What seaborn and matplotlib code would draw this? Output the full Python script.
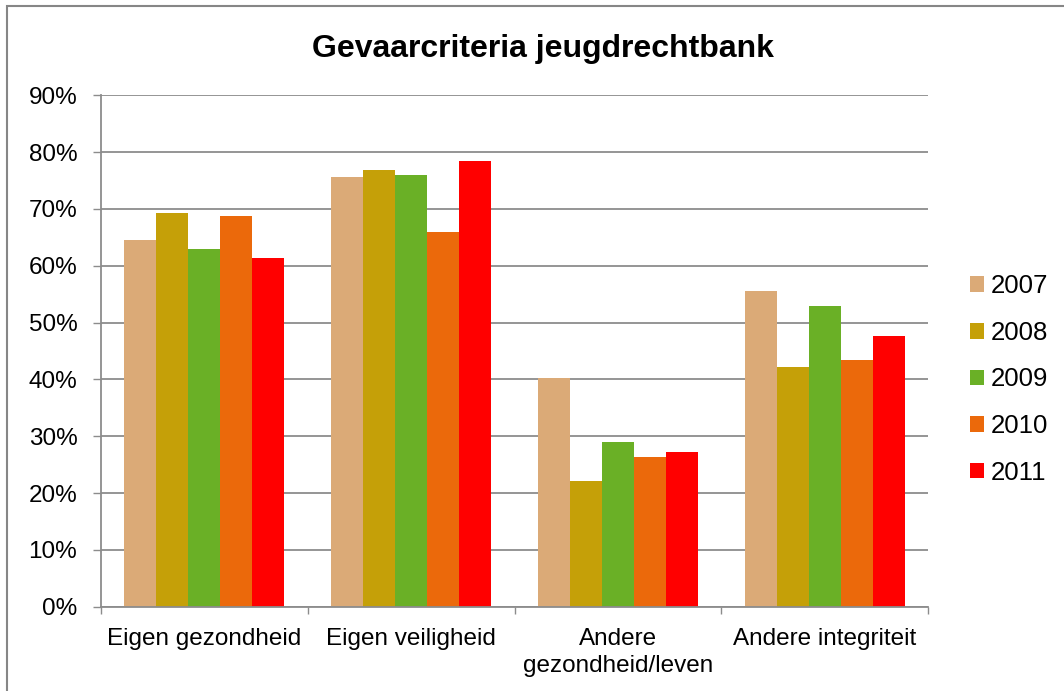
import matplotlib
matplotlib.use("Agg")
import matplotlib.pyplot as plt
import pandas as pd
import seaborn as sns
from matplotlib.patches import Rectangle, Patch
from matplotlib.ticker import FixedLocator

# Data (in %)
categories = ["Eigen gezondheid", "Eigen veiligheid",
              "Andere\ngezondheid/leven", "Andere integriteit"]
years = ["2007", "2008", "2009", "2010", "2011"]
v2007 = [64.6, 75.7, 40.3, 55.5]
v2008 = [69.2, 76.9, 22.1, 42.2]
v2009 = [62.9, 76.0, 28.9, 52.9]
v2010 = [68.8, 66.0, 26.3, 43.4]
v2011 = [61.4, 78.4, 27.2, 47.7]
colors = ["#DBAA77", "#C5A008", "#6AB026", "#EB690B", "#FF0000"]
yticks = [0, 10, 20, 30, 40, 50, 60, 70, 80, 90]

series = [v2007, v2008, v2009, v2010, v2011]
rows = []
for yr, vals in zip(years, series):
    for cat, v in zip(categories, vals):
        rows.append({"criterium": cat, "jaar": yr, "pct": v})
df = pd.DataFrame(rows)

sns.set_style("white")
plt.rcParams['font.family'] = ['Liberation Sans', 'DejaVu Sans']
plt.rcParams['text.color'] = 'black'
plt.rcParams['xtick.labelcolor'] = 'black'
plt.rcParams['ytick.labelcolor'] = 'black'

W, H = 1064, 691
fig = plt.figure(figsize=(W / 100, H / 100), dpi=100)
ax = fig.add_axes([100.7 / W, 1 - 606.7 / H, (928.3 - 100.7) / W, (606.7 - 95.3) / H])

sns.barplot(data=df, x="criterium", y="pct", hue="jaar", order=categories,
            hue_order=years, palette=colors, width=0.77, gap=0, saturation=1,
            edgecolor="none", linewidth=0, errorbar=None, ax=ax)

grey = "#8c8c8c"
ax.set_ylim(0, 90)
ax.set_xlim(-0.5, 3.5)
ax.set_yticks(yticks)
ax.set_yticklabels([f"{t}%" for t in yticks])
ax.set_xlabel("")
ax.set_ylabel("")
ax.yaxis.grid(True, color=grey, lw=1.3)
ax.set_axisbelow(True)
for s in ["top", "right"]:
    ax.spines[s].set_visible(False)
for s in ["left", "bottom"]:
    ax.spines[s].set_color(grey)
    ax.spines[s].set_linewidth(1.3)

ax.tick_params(axis="y", length=5.8, width=1, color=grey, pad=11, labelsize=17.5, left=True)
ax.tick_params(axis="x", which="major", length=0, pad=15, labelsize=17.5)
for lbl in ax.get_xticklabels():
    lbl.set_linespacing(1.35)
ax.xaxis.set_minor_locator(FixedLocator([-0.5, 0.5, 1.5, 2.5, 3.5]))
ax.tick_params(axis="x", which="minor", length=5, width=1, color=grey, bottom=True)

ax.legend_.remove()
handles = [Patch(facecolor=c, edgecolor="none") for c in colors]
ax.legend(handles, years, loc="center left",
          bbox_to_anchor=(970 / W, 1 - 379.5 / H), bbox_transform=fig.transFigure,
          frameon=False, fontsize=18.5, borderpad=0, borderaxespad=0,
          handlelength=0.55, handleheight=0.55, handletextpad=0.25, labelspacing=0.88)

fig.text(543 / W, 1 - 49 / H, "Gevaarcriteria jeugdrechtbank", ha="center", va="center",
         fontsize=23, fontweight="bold")

# outer chart border (right and bottom edges fall outside the image)
fig.patches.append(Rectangle((7 / W, -0.1), 1.2, 1.1 - 6 / H, transform=fig.transFigure,
                             fill=False, edgecolor="#868686", lw=1.5, clip_on=False))

fig.savefig("out.png", dpi=100, facecolor="white")
